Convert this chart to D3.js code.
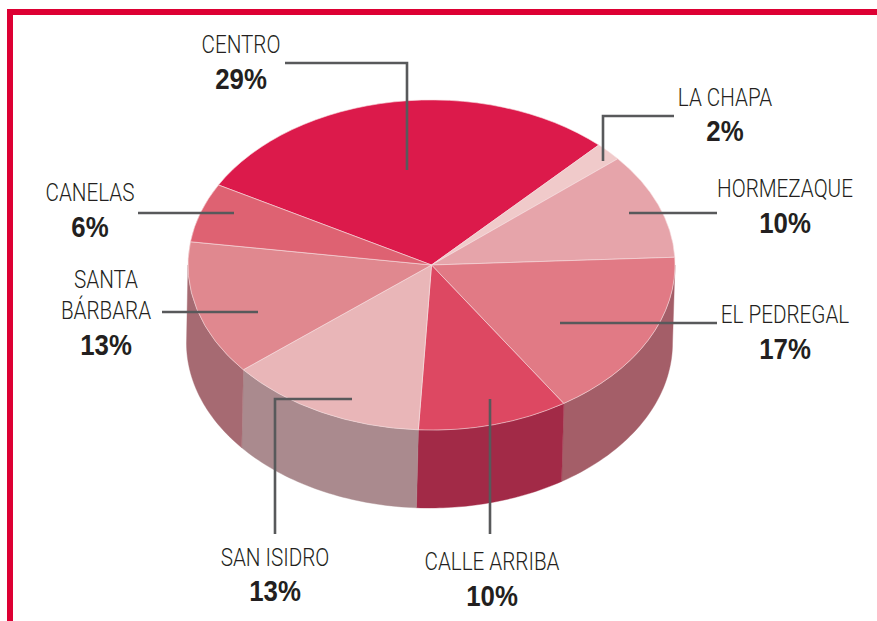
<!DOCTYPE html>
<html><head><meta charset="utf-8">
<script src="https://cdn.jsdelivr.net/npm/d3@7"></script>
<style>
html,body{margin:0;padding:0;background:#fff}
svg{display:block}
.name{font-family:Roboto,"Liberation Sans",sans-serif;font-weight:300;font-size:25.5px;fill:#231f20}
.pct{font-family:"Liberation Sans",sans-serif;font-weight:700;font-size:29px;fill:#231f20}
</style></head><body>
<script>
// Data
const categories = ["CENTRO","LA CHAPA","HORMEZAQUE","EL PEDREGAL","CALLE ARRIBA","SAN ISIDRO","SANTA BÁRBARA","CANELAS"];
const shares = [29,1.8,10.4,16.6,10,13.2,13.2,5.8];
const topColors = ["#dc1a4b","#f0caca","#e6a4aa","#e17a85","#dd4862","#e9b6b8","#e0888f","#de6272"];
const wallColors = ["#a45e68","#a45e68","#a45e68","#a45e68","#a22a47","#aa8a8e","#a66a72","#a66a72"];

// Layout (annotations, not data)
const labelLines = [["CENTRO"],["LA CHAPA"],["HORMEZAQUE"],["EL PEDREGAL"],["CALLE ARRIBA"],["SAN ISIDRO"],["SANTA","BÁRBARA"],["CANELAS"]];
const labelPos = [[241,53,89],[725,106,141],[785,197,233],[785,323,359],[492,570,606],[275,566,601],[106,[288,319],355],[90,201,237]];
const leaders = [
 [[285,63],[407,63],[407,170]],
 [[674,116],[603,116],[603,161]],
 [[717,213],[629,213]],
 [[717,323],[560,323]],
 [[490,399],[490,534]],
 [[352,399],[275,399],[275,534]],
 [[162,312],[258,312]],
 [[138,213],[234,213]]
];
const nameSqueeze=0.81, pctSqueeze=0.89;

const W=877,H=621;
const top_={cx:431.5,cy:265,rx:243.5,ry:165}, bot={cx:429.5,cy:343,rx:243,ry:165};
const svg=d3.select("body").append("svg").attr("width",W).attr("height",H).attr("viewBox",[0,0,W,H]);

// frame
svg.append("path").attr("d",d3.line()([[877,12],[10,12],[10,621]])).attr("fill","none").attr("stroke","#dd0033").attr("stroke-width",6);

const deg=Math.PI/180;
const pie=d3.pie().sort(null).startAngle(-61*deg).endAngle(299*deg);
const arcs=pie(shares);

// walls: visible from the right-most to the left-most point of the disc
const onEllipse=(e,a)=>[e.cx+e.rx*Math.sin(a),e.cy-e.ry*Math.cos(a)];
const wallLo=90*deg, wallHi=270*deg;
const wallLine=d3.line();
const wall=svg.append("g");
arcs.forEach((d,i)=>{
  const a=Math.max(d.startAngle,wallLo), b=Math.min(d.endAngle,wallHi);
  if(b<=a) return;
  const ts=d3.range(0,41).map(k=>a+(b-a)*k/40);
  const pts=ts.map(t=>onEllipse(top_,t)).concat(ts.slice().reverse().map(t=>onEllipse(bot,t)));
  wall.append("path").attr("d",wallLine(pts)+"Z").attr("fill",wallColors[i]).attr("stroke",wallColors[i]).attr("stroke-width",.4);
});

// top surface
const arc=d3.arc().innerRadius(0).outerRadius(1);
svg.append("g").attr("transform",`translate(${top_.cx},${top_.cy}) scale(${top_.rx},${top_.ry})`)
 .selectAll("path").data(arcs).join("path")
 .attr("d",arc).attr("fill",(d,i)=>topColors[i])
 .attr("stroke","#f7dfe1").attr("stroke-width",.6).attr("vector-effect","non-scaling-stroke");

// leaders
svg.append("g").selectAll("path").data(leaders).join("path")
 .attr("d",d=>d3.line()(d)).attr("fill","none").attr("stroke","#58595b").attr("stroke-width",2.6);

// labels
const lab=svg.append("g").attr("text-anchor","middle");
categories.forEach((c,i)=>{
  const [x,ny,py]=labelPos[i];
  const ys=Array.isArray(ny)?ny:[ny];
  labelLines[i].forEach((t,j)=>lab.append("text").attr("class","name")
    .attr("transform",`translate(${x},${ys[j]}) scale(${nameSqueeze},1)`).text(t));
  lab.append("text").attr("class","pct")
    .attr("transform",`translate(${x},${py}) scale(${pctSqueeze},1)`).text(Math.round(shares[i])+"%");
});
</script></body></html>
